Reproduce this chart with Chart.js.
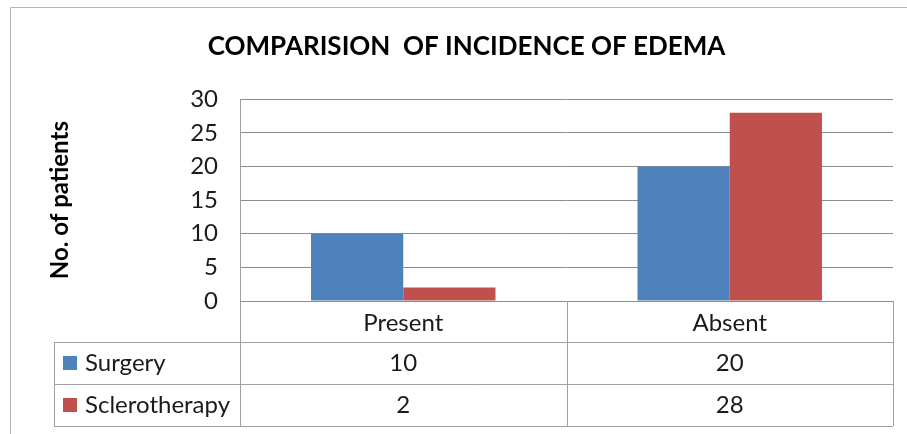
<!DOCTYPE html>
<html>
<head>
<meta charset="utf-8">
<script src="https://cdn.jsdelivr.net/npm/chart.js@4.4.0/dist/chart.umd.min.js"></script>
<style>
  html, body { margin: 0; padding: 0; background: #fff; }
  #wrap { width: 907px; height: 434px; }
</style>
</head>
<body>
<div id="wrap"><canvas id="edemaChart"></canvas></div>
<script>
// Chart data
const categories = ["Present", "Absent"];
const seriesNames = ["Surgery", "Sclerotherapy"];
const surgery = [10, 20];
const sclerotherapy = [2, 28];
const seriesColors = ["#4f81bd", "#c0504d"];
const yMax = 30;
const yStep = 5;

const lineColor = "#a0a0a0";
const textColor = "#1a1a1a";
const fontFamily = "Lato";

// Data table under the plot + outer frame
const dataTablePlugin = {
  id: "dataTable",
  afterDraw(chart) {
    const { ctx, chartArea, scales } = chart;
    const x = scales.x;
    const left = chartArea.left;
    const right = chartArea.right;
    const bottom = chartArea.bottom;
    const headerH = 41;
    const rowH = 42;
    const tableLeft = 54;
    const rows = [surgery, sclerotherapy];
    const tableBottom = bottom + headerH + rowH * rows.length;
    const catW = x.width / categories.length;

    ctx.save();
    ctx.strokeStyle = lineColor;
    ctx.lineWidth = 1;
    ctx.beginPath();
    // horizontal rules
    for (let r = 0; r <= rows.length; r++) {
      const yy = Math.round(bottom + headerH + r * rowH) + 0.5;
      ctx.moveTo(tableLeft, yy);
      ctx.lineTo(right, yy);
    }
    // vertical rules
    for (let c = 0; c <= categories.length; c++) {
      const xx = Math.round(left + c * catW) + 0.5;
      ctx.moveTo(xx, c === 0 ? chartArea.top : bottom);
      ctx.lineTo(xx, tableBottom);
    }
    ctx.moveTo(tableLeft + 0.5, bottom + headerH);
    ctx.lineTo(tableLeft + 0.5, tableBottom);
    ctx.stroke();

    // outer frame (cut off at right / bottom)
    ctx.strokeStyle = "#b4b4b4";
    ctx.beginPath();
    ctx.moveTo(10.5, chart.height);
    ctx.lineTo(10.5, 7.5);
    ctx.lineTo(chart.width, 7.5);
    ctx.stroke();

    // rows: legend key, series name, values
    ctx.font = `24px ${fontFamily}`;
    ctx.textBaseline = "middle";
    rows.forEach((vals, r) => {
      const cy = bottom + headerH + rowH * (r + 0.5);
      ctx.fillStyle = seriesColors[r];
      ctx.fillRect(63, cy - 7, 14, 14);
      ctx.fillStyle = textColor;
      ctx.textAlign = "left";
      ctx.fillText(seriesNames[r], 85, cy);
      ctx.textAlign = "center";
      vals.forEach((v, i) => ctx.fillText(String(v), x.getPixelForValue(i), cy));
    });
    ctx.restore();
  },
};

function initChart() {
  new Chart(document.getElementById("edemaChart"), {
    type: "bar",
    data: {
      labels: categories,
      datasets: [
        {
          label: seriesNames[0],
          data: surgery,
          backgroundColor: seriesColors[0],
          categoryPercentage: 0.565,
          barPercentage: 1,
        },
        {
          label: seriesNames[1],
          data: sclerotherapy,
          backgroundColor: seriesColors[1],
          categoryPercentage: 0.565,
          barPercentage: 1,
        },
      ],
    },
    options: {
      responsive: true,
      maintainAspectRatio: false,
      animation: false,
      layout: { padding: { left: 40, top: 0, right: 14, bottom: 0 } },
      plugins: {
        legend: { display: false },
        tooltip: { enabled: false },
        title: {
          display: true,
          text: "COMPARISION  OF INCIDENCE OF EDEMA",
          color: "#000",
          font: { family: fontFamily, size: 26, weight: "bold" },
          padding: { top: 31, bottom: 37 },
        },
      },
      scales: {
        x: {
          grid: { display: false },
          border: { display: false },
          ticks: {
            color: textColor,
            font: { family: fontFamily, size: 24 },
            padding: 0,
          },
          afterFit: (s) => { s.height = 133; },
        },
        y: {
          min: 0,
          max: yMax,
          grid: { color: "#8c8c8c", drawTicks: false },
          border: { display: false },
          ticks: {
            stepSize: yStep,
            color: textColor,
            font: { family: fontFamily, size: 24 },
            padding: 22,
          },
          title: {
            display: true,
            text: "No. of patients",
            color: "#000",
            font: { family: fontFamily, size: 24, weight: "bold" },
            padding: { top: 6, bottom: 0 },
          },
          afterFit: (s) => { s.width = 200; },
        },
      },
    },
    plugins: [dataTablePlugin],
  });
}

window.addEventListener("DOMContentLoaded", initChart);
</script>
</body>
</html>
